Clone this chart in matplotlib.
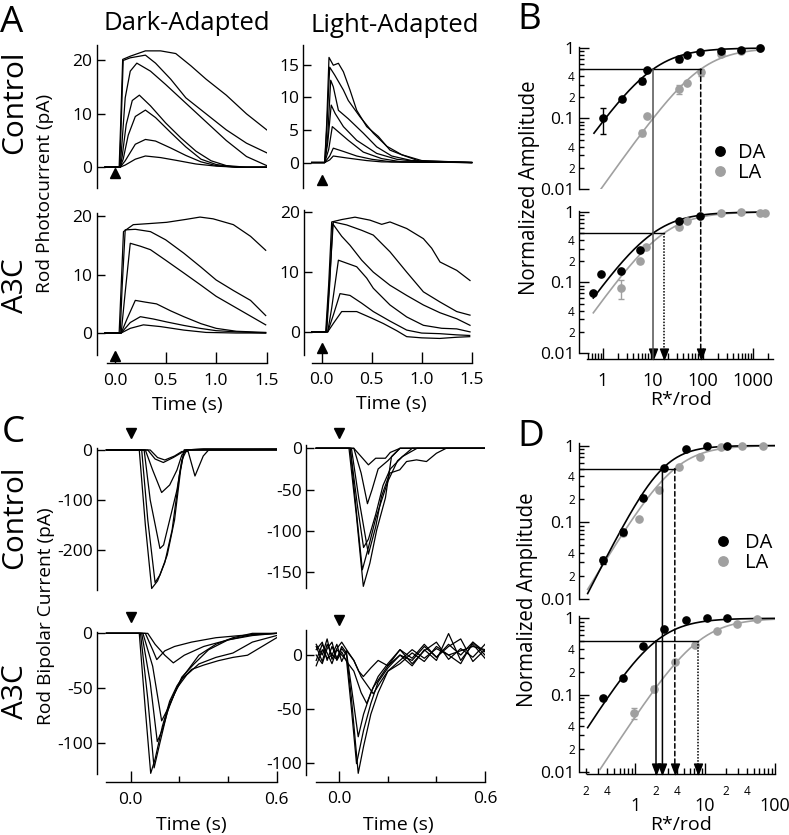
import numpy as np
import matplotlib
matplotlib.use('Agg')
import matplotlib.pyplot as plt
from matplotlib.patches import ConnectionPatch
from matplotlib.path import Path

W, H = 789, 835
plt.rcParams['font.family'] = ['Open Sans', 'DejaVu Sans']
plt.rcParams['axes.unicode_minus'] = False
plt.rcParams['axes.linewidth'] = 1.0

# ---------------- A: rod photocurrents (time s, current pA) ----------------
a_ctrl_dark_t = [
    [-0.1, 0.05, 0.1, 0.2, 0.3, 0.45, 0.6, 0.8, 1.0, 1.2, 1.5],
    [-0.1, 0.05, 0.1, 0.2, 0.3, 0.4, 0.55, 0.7, 0.85, 1.0, 1.2, 1.5],
    [-0.1, 0.05, 0.08, 0.13, 0.2, 0.3, 0.4, 0.55, 0.7, 0.85, 1.0, 1.2, 1.5],
    [-0.1, 0.05, 0.07, 0.11, 0.17, 0.24, 0.35, 0.5, 0.65, 0.8, 0.95, 1.1, 1.3, 1.5],
    [-0.1, 0.05, 0.07, 0.1, 0.15, 0.215, 0.35, 0.5, 0.7, 0.9, 1.1, 1.3, 1.5],
    [-0.1, 0.045, 0.06, 0.08, 0.15, 0.3, 0.4, 0.55, 0.7, 0.9, 1.1, 1.3, 1.5],
    [-0.1, 0.04, 0.055, 0.075, 0.15, 0.3, 0.45, 0.6, 0.75, 0.9, 1.1, 1.3, 1.5],
]
a_ctrl_dark_y = [
    [0, 0, 0.4, 1.5, 2.1, 1.8, 1.3, 0.6, 0.2, 0, 0],
    [0, 0, 1.2, 4.3, 5.2, 4.9, 3.6, 2.2, 1.0, 0.3, 0, 0],
    [0, 0, 1.5, 6, 9.5, 10.7, 9.3, 6.5, 3.8, 1.5, 0.5, 0, 0],
    [0, 0, 2, 8, 12.5, 13.5, 11.5, 8.3, 5.5, 3, 1.2, 0.3, 0, 0],
    [0, 0, 5, 13, 18, 19.5, 18, 15.5, 12, 8.5, 5, 2, 0.3],
    [0, 0, 8, 20, 20.5, 21, 19.5, 16.5, 13, 10, 7, 4.5, 2.7],
    [0, 0, 8, 20.2, 20.8, 21.8, 21.8, 21.3, 19, 16.5, 13.5, 10, 7],
]
a_ctrl_light_t = [
    [-0.1, 0.03, 0.08, 0.116, 0.25, 0.45, 0.6, 1.5],
    [-0.1, 0.03, 0.08, 0.116, 0.217, 0.35, 0.5, 0.7, 1.5],
    [-0.1, 0.03, 0.07, 0.106, 0.167, 0.266, 0.416, 0.6, 0.8, 1.5],
    [-0.1, 0.03, 0.06, 0.095, 0.135, 0.217, 0.35, 0.55, 0.75, 1.0, 1.5],
    [-0.1, 0.03, 0.06, 0.09, 0.116, 0.167, 0.266, 0.416, 0.55, 0.7, 0.9, 1.5],
    [-0.1, 0.03, 0.05, 0.08, 0.13, 0.217, 0.266, 0.383, 0.516, 0.65, 0.8, 1.0, 1.5],
    [-0.1, 0.03, 0.05, 0.073, 0.116, 0.167, 0.217, 0.283, 0.35, 0.45, 0.566, 0.683, 0.816, 1.0, 1.5],
]
a_ctrl_light_y = [
    [0, 0, 0.4, 1.0, 0.7, 0.3, 0.1, 0],
    [0, 0, 1, 2.2, 1.7, 1.0, 0.5, 0.1, 0],
    [0, 0, 2, 5.5, 4.7, 3.4, 1.6, 0.6, 0.1, 0],
    [0, 0, 3, 8.8, 7.5, 5.5, 3.4, 1.4, 0.5, 0.1, 0],
    [0, 0, 4, 12.6, 11.6, 8.0, 6.7, 4.5, 2.4, 1.0, 0.3, 0],
    [0, 0, 5, 14.6, 13.4, 11.1, 9.5, 7.0, 4.5, 2.5, 1.2, 0.3, 0],
    [0, 0, 6, 16.1, 14.9, 15.2, 13.9, 11.1, 8.0, 5.5, 4.0, 1.9, 1.1, 0.1, 0],
]
a_a3c_dark_t = [
    [-0.1, 0.04, 0.06, 0.083, 0.18, 0.35, 0.51, 0.7, 0.84, 0.97, 1.17, 1.34, 1.49],
    [-0.1, 0.05, 0.07, 0.1, 0.2, 0.35, 0.5, 0.68, 0.85, 1.0, 1.17, 1.34, 1.49],
    [-0.1, 0.06, 0.1, 0.15, 0.25, 0.35, 0.5, 0.68, 0.85, 1.0, 1.17, 1.34, 1.49],
    [-0.1, 0.06, 0.12, 0.2, 0.3, 0.41, 0.55, 0.68, 0.85, 1.0, 1.2, 1.49],
    [-0.1, 0.06, 0.15, 0.25, 0.38, 0.51, 0.68, 0.84, 1.0, 1.2, 1.49],
    [-0.1, 0.06, 0.15, 0.28, 0.45, 0.68, 0.9, 1.2, 1.49],
]
a_a3c_dark_y = [
    [0, 0, 8, 17.4, 18.6, 18.8, 19.0, 19.5, 19.9, 19.6, 18.6, 16.6, 14.2],
    [0, 0, 8, 17.7, 17.8, 17.4, 16, 13.7, 11.3, 9.1, 7.3, 5.6, 3.0],
    [0, 0, 7, 15.4, 14.9, 14.3, 12.5, 10.3, 8.2, 6.3, 4.6, 2.9, 1.4],
    [0, 0, 2.5, 5.6, 5.3, 5.0, 3.8, 2.8, 1.6, 0.8, 0.3, 0.1],
    [0, 0, 1.8, 2.8, 2.4, 1.9, 1.3, 0.8, 0.4, 0.2, 0],
    [0, 0, 0.8, 1.4, 1.1, 0.5, 0.1, 0, 0],
]
a_a3c_light_t = [
    [-0.1, 0.04, 0.07, 0.1, 0.2, 0.333, 0.483, 0.6, 0.683, 0.85, 1.017, 1.1, 1.183, 1.35, 1.483],
    [-0.1, 0.045, 0.08, 0.116, 0.25, 0.4, 0.516, 0.683, 0.85, 1.017, 1.183, 1.35, 1.483],
    [-0.1, 0.05, 0.08, 0.11, 0.2, 0.283, 0.4, 0.516, 0.683, 0.85, 1.017, 1.183, 1.35, 1.483],
    [-0.1, 0.06, 0.1, 0.167, 0.25, 0.35, 0.45, 0.516, 0.683, 0.85, 1.017, 1.2, 1.35, 1.483],
    [-0.1, 0.06, 0.12, 0.183, 0.283, 0.4, 0.516, 0.683, 0.85, 1.0, 1.18, 1.35, 1.48],
    [-0.1, 0.06, 0.12, 0.2, 0.35, 0.5, 0.616, 0.75, 0.85, 1.0, 1.18, 1.35, 1.48],
]
a_a3c_light_y = [
    [0, 0, 8, 18.4, 18.8, 19.2, 18.7, 18.0, 18.4, 17.3, 15.6, 14, 11.7, 10.3, 8.6],
    [0, 0, 9, 18.4, 17.9, 17, 16.2, 13.4, 10.0, 6.7, 5.0, 3.4, 2.8],
    [0, 0, 8, 18.1, 16, 14.5, 12, 10.0, 7.8, 6.1, 4.5, 3.2, 2.2, 1.1],
    [0, 0, 4, 12.0, 11.5, 10.9, 9, 7.3, 4.5, 2.5, 1.1, 0.6, 0.5, 0],
    [0, 0, 3, 6.4, 6.1, 4.8, 3.4, 1.8, 0.3, -0.2, -0.3, -0.5, -0.6],
    [0, 0, 1.5, 3.4, 3.4, 2.3, 1.4, 0.2, -0.8, -1.0, -1.1, -0.9, -0.8],
]

# ---------------- C: rod bipolar currents (time s, current pA) ----------------
c_ctrl_dark_t = [
    [-0.1, 0.035, 0.06, 0.086, 0.11, 0.14, 0.17, 0.2, 0.22, 0.3, 0.6],
    [-0.1, 0.045, 0.07, 0.1, 0.12, 0.15, 0.18, 0.205, 0.22, 0.3, 0.6],
    [-0.1, 0.055, 0.08, 0.12, 0.135, 0.16, 0.19, 0.21, 0.23, 0.6],
    [-0.1, 0.06, 0.09, 0.127, 0.16, 0.19, 0.21, 0.23, 0.6],
    [-0.1, 0.07, 0.1, 0.134, 0.175, 0.21, 0.23, 0.6],
    [-0.1, 0.08, 0.11, 0.14, 0.18, 0.21, 0.236, 0.264, 0.298, 0.32, 0.6],
]
c_ctrl_dark_y = [
    [0, 0, -150, -277, -262, -225, -160, -50, 0, 2, 2],
    [0, 0, -140, -265, -250, -210, -140, -40, 0, 2, 2],
    [0, 0, -100, -197, -190, -140, -80, -20, 0, 1],
    [0, 0, -40, -85, -70, -40, -10, 0, 0],
    [0, 0, -18, -25, -15, -5, 0, 1],
    [0, 0, -15, -20, -12, -3, -3, -52, -12, 0, 0],
]
c_ctrl_light_t = [
    [-0.095, 0.04, 0.07, 0.099, 0.126, 0.154, 0.19, 0.215, 0.25, 0.6],
    [-0.095, 0.045, 0.075, 0.095, 0.12, 0.15, 0.2, 0.24, 0.3, 0.6],
    [-0.095, 0.05, 0.08, 0.12, 0.15, 0.174, 0.208, 0.249, 0.277, 0.318, 0.359, 0.4, 0.44, 0.6],
    [-0.095, 0.045, 0.075, 0.1, 0.12, 0.15, 0.18, 0.21, 0.26, 0.32, 0.6],
    [-0.095, 0.06, 0.09, 0.116, 0.135, 0.16, 0.2, 0.25, 0.6],
    [-0.095, 0.06, 0.09, 0.12, 0.15, 0.19, 0.21, 0.25, 0.6],
]
c_ctrl_light_y = [
    [0, 0, -80, -167, -139, -99, -60, -10, 0, 0],
    [0, 0, -90, -147, -120, -85, -40, -15, 0, 0],
    [0, 0, -60, -128, -95, -58, -30, -26, -16, -14, -16, -6, 0, 0],
    [0, 0, -70, -120, -110, -80, -45, -25, -10, 0, 0],
    [0, 0, -30, -67, -50, -25, -15, 0, 0],
    [0, 0, -10, -20, -12, -12, -5, 0, 0],
]
c_a3c_dark_t = [
    [-0.1, 0.035, 0.06, 0.082, 0.1, 0.13, 0.16, 0.19, 0.22, 0.28, 0.35, 0.42, 0.5, 0.6],
    [-0.1, 0.04, 0.07, 0.096, 0.12, 0.15, 0.18, 0.21, 0.26, 0.32, 0.4, 0.5, 0.6],
    [-0.1, 0.045, 0.08, 0.109, 0.13, 0.16, 0.19, 0.23, 0.28, 0.35, 0.42, 0.5, 0.6],
    [-0.1, 0.05, 0.09, 0.127, 0.15, 0.18, 0.21, 0.25, 0.3, 0.36, 0.42, 0.48, 0.54, 0.6],
    [-0.1, 0.06, 0.09, 0.107, 0.14, 0.18, 0.25, 0.35, 0.45, 0.6],
    [-0.1, 0.07, 0.1, 0.14, 0.175, 0.22, 0.3, 0.4, 0.5, 0.6],
]
c_a3c_dark_y = [
    [0, 0, -70, -128, -115, -85, -62, -48, -38, -20, -10, -4, 0, 0],
    [0, 0, -60, -123, -100, -72, -55, -40, -28, -15, -6, -1, 0],
    [0, 0, -45, -99, -88, -65, -50, -38, -28, -22, -18, -8, -2],
    [0, 0, -30, -80, -70, -55, -42, -33, -29, -25, -22, -20, -12, -4],
    [0, 0, -15, -24, -16, -12, -8, -4, -2, 0],
    [0, 0, -10, -20, -27, -20, -12, -6, -2, 0],
]
c_a3c_light_t = [
    [-0.095, -0.07, -0.05, -0.03, -0.01, 0.01, 0.03, 0.05, 0.078, 0.1, 0.13, 0.16, 0.2, 0.25, 0.3, 0.35, 0.4, 0.45, 0.5, 0.55, 0.6],
    [-0.095, -0.07, -0.05, -0.03, -0.01, 0.01, 0.03, 0.05, 0.071, 0.1, 0.13, 0.16, 0.2, 0.25, 0.3, 0.35, 0.4, 0.45, 0.5, 0.55, 0.6],
    [-0.095, -0.07, -0.05, -0.03, -0.01, 0.01, 0.03, 0.05, 0.078, 0.1, 0.13, 0.16, 0.2, 0.25, 0.3, 0.35, 0.4, 0.45, 0.5, 0.55, 0.6],
    [-0.095, -0.07, -0.05, -0.03, -0.01, 0.01, 0.03, 0.06, 0.09, 0.113, 0.14, 0.17, 0.2, 0.25, 0.3, 0.35, 0.4, 0.45, 0.5, 0.55, 0.6],
    [-0.095, -0.07, -0.05, -0.03, -0.01, 0.01, 0.03, 0.06, 0.09, 0.115, 0.14, 0.17, 0.2, 0.25, 0.3, 0.35, 0.4, 0.45, 0.5, 0.55, 0.6],
    [-0.095, -0.07, -0.05, -0.03, -0.01, 0.01, 0.03, 0.06, 0.08, 0.099, 0.13, 0.16, 0.2, 0.25, 0.3, 0.35, 0.4, 0.45, 0.5, 0.55, 0.6],
]
c_a3c_light_y = [
    [5, 12, -5, 8, -3, 6, 0, -40, -110, -85, -55, -35, -15, -5, 5, -3, 6, 0, 4, 8, 5],
    [-5, 10, 2, -8, 5, 0, -5, -50, -101, -70, -45, -25, -12, 0, -5, 8, -2, 10, 0, 12, 3],
    [8, -6, 10, 0, -4, 8, 2, -30, -76, -55, -35, -20, -8, 5, -8, 4, 12, -4, 6, -2, 10],
    [0, -8, 6, 12, -5, 3, -6, -15, -35, -45, -30, -20, -10, 0, -10, 5, -5, 20, -5, 10, -3],
    [-10, 5, -3, 0, 10, -6, 4, -5, -20, -28, -36, -25, -15, -8, 2, -6, 8, 0, -8, 12, 0],
    [10, 0, 15, -4, 6, 12, 5, -5, -15, -20, -12, -5, -10, 5, -3, 10, -2, 8, 15, -6, 5],
]

# ---------------- B: photocurrent response vs R*/rod ----------------
b_ctrl_da_x = [0.98, 2.37, 5.95, 7.7, 33, 48.5, 87, 225, 575, 1380]
b_ctrl_da_y = [0.10, 0.19, 0.34, 0.48, 0.70, 0.80, 0.87, 0.91, 0.95, 1.0]
b_ctrl_da_err = [0.04, 0.015, 0.035, 0.03, 0.06, 0.03, 0.02, 0.01, 0.01, 0]
b_ctrl_la_x = [5.95, 7.7, 33, 48.5, 90, 225, 575, 1380]
b_ctrl_la_y = [0.063, 0.11, 0.26, 0.32, 0.45, 0.81, 0.90, 1.0]
b_ctrl_la_err = [0.006, 0, 0.04, 0, 0.05, 0.02, 0, 0]
b_a3c_da_x = [0.64, 0.91, 2.26, 5.5, 33, 87]
b_a3c_da_y = [0.070, 0.13, 0.146, 0.29, 0.74, 0.88]
b_a3c_la_x = [2.26, 5.5, 7.1, 33, 47, 225, 575, 1380, 1700]
b_a3c_la_y = [0.083, 0.20, 0.32, 0.62, 0.74, 0.95, 1.0, 0.98, 0.98]
b_a3c_la_err = [0.025, 0.01, 0, 0.04, 0, 0, 0, 0, 0]
# half-saturating R*/rod of the fits (Hill exponent 1)
b_half = {'ctrl_da': 10, 'ctrl_la': 90, 'a3c_da': 10, 'a3c_la': 16.6}

# ---------------- D: bipolar response vs R*/rod ----------------
d_ctrl_da_x = [0.346, 0.68, 1.31, 2.62, 5.3, 10.6, 20.4]
d_ctrl_da_y = [0.032, 0.075, 0.21, 0.51, 0.90, 1.0, 1.0]
d_ctrl_da_err = [0.003, 0.006, 0.015, 0.02, 0, 0, 0]
d_ctrl_la_x = [0.346, 0.68, 1.12, 2.2, 4.3, 8.5, 16.7, 33.4, 66.6]
d_ctrl_la_y = [0.032, 0.072, 0.11, 0.26, 0.53, 0.70, 0.96, 1.0, 1.0]
d_a3c_da_x = [0.346, 0.68, 1.31, 2.62, 5.3, 10.6, 20.4]
d_a3c_da_y = [0.092, 0.165, 0.435, 0.72, 0.95, 1.0, 1.0]
d_a3c_da_err = [0.006, 0.01, 0.02, 0.03, 0, 0, 0]
d_a3c_la_x = [0.95, 1.87, 3.7, 7.2, 14.6, 28.4, 55]
d_a3c_la_y = [0.058, 0.12, 0.27, 0.45, 0.68, 0.84, 0.98]
d_a3c_la_err = [0.01, 0.01, 0, 0, 0, 0, 0]
# (half-saturating R*/rod, Hill exponent)
d_fit = {'ctrl_da': (2.46, 1.8), 'ctrl_la': (3.7, 1.5), 'a3c_da': (1.97, 1.45), 'a3c_la': (8.0, 1.4)}

GRAY = '#a0a0a0'
TICK = 12.5

fig = plt.figure(figsize=(W / 100, H / 100), dpi=100)


def px_axes(left, top, right, bottom):
    ax = fig.add_axes([left / W, 1 - bottom / H, (right - left) / W, (bottom - top) / H])
    ax.patch.set_visible(False)
    ax.spines[['top', 'right']].set_visible(False)
    return ax


def ftext(x, y, s, size, ha='center', va='center', **kw):
    fig.text(x / W, 1 - y / H, s, fontsize=size, ha=ha, va=va, **kw)


def trace_panel(box, xlim, ylim, yticks, ts, ys, ybounds=None, xbounds=None,
                xticks=None, xlabels=None, xminor=None, stim=None):
    ax = px_axes(*box)
    for t, y in zip(ts, ys):
        ax.plot(t, y, color='black', lw=0.9)
    ax.set_xlim(xlim)
    ax.set_ylim(ylim)
    ax.set_yticks(yticks)
    ax.tick_params(axis='y', direction='in', length=6, width=1, pad=3, labelsize=TICK)
    if ybounds:
        ax.spines['left'].set_bounds(*ybounds)
    if xbounds is None:
        ax.spines['bottom'].set_visible(False)
        ax.set_xticks([])
    else:
        ax.spines['bottom'].set_bounds(*xbounds)
        ax.set_xticks(xticks, labels=xlabels)
        if xminor:
            ax.set_xticks(xminor, minor=True)
        ax.tick_params(axis='x', which='major', direction='in', length=8, width=1, pad=7, labelsize=TICK)
        ax.tick_params(axis='x', which='minor', direction='in', length=4, width=1)
    if stim:
        ax.plot([0], [stim[1]], marker=stim[0], color='black', ms=6.5, clip_on=False)
    return ax


# ---- panel A ----
trace_panel((96.7, 45, 266.7, 188), (-0.182, 1.5), (-3.9, 22.9), [0, 10, 20],
            a_ctrl_dark_t, a_ctrl_dark_y, stim=('^', -1.0))
trace_panel((303.3, 45, 472.7, 188), (-0.184, 1.51), (-3.9, 18.0), [0, 5, 10, 15],
            a_ctrl_light_t, a_ctrl_light_y, stim=('^', -2.7))
trace_panel((96.7, 213, 266.7, 363.3), (-0.182, 1.5), (-5.2, 20.6), [0, 10, 20],
            a_a3c_dark_t, a_a3c_dark_y, ybounds=(-3.8, 20.6), xbounds=(-0.083, 1.5),
            xticks=[0, 0.5, 1.0, 1.5], xlabels=['0.0', '0.5', '1.0', '1.5'], stim=('^', -4.0))
trace_panel((304, 210, 472.7, 362.7), (-0.177, 1.51), (-5.16, 20.4), [0, 10, 20],
            a_a3c_light_t, a_a3c_light_y, ybounds=(-3.9, 20.4), xbounds=(-0.1, 1.5),
            xticks=[0, 0.5, 1.0, 1.5], xlabels=['0.0', '0.5', '1.0', '1.5'], stim=('^', -2.7))

# ---- panel C ----
trace_panel((96.7, 448, 276.7, 590), (-0.14, 0.6), (-280, 4), [0, -100, -200],
            c_ctrl_dark_t, c_ctrl_dark_y, stim=('v', 34))
trace_panel((306, 445, 485, 588), (-0.137, 0.6), (-169, 4), [0, -50, -100, -150],
            c_ctrl_light_t, c_ctrl_light_y, stim=('v', 18.5))
trace_panel((96.7, 631.7, 276.7, 782.3), (-0.14, 0.6), (-136.2, 1.5), [0, -50, -100],
            c_a3c_dark_t, c_a3c_dark_y, ybounds=(-128.6, 1.5), xbounds=(-0.1, 0.6),
            xticks=[0, 0.6], xlabels=['0.0', '0.6'], xminor=[0.2, 0.4], stim=('v', 15.2))
trace_panel((306, 630, 485, 781.7), (-0.137, 0.6), (-117.8, 23.3), [0, -50, -100],
            c_a3c_light_t, c_a3c_light_y, ybounds=(-111.2, 23.3), xbounds=(-0.096, 0.6),
            xticks=[0, 0.6], xlabels=['0.0', '0.6'], xminor=[0.2, 0.4], stim=('v', 32.6))


# ---- dose-response panels ----
def hill(x, half, n=1.0):
    return x ** n / (x ** n + half ** n)


def log_y(ax, ylim):
    ax.set_yscale('log')
    ax.set_xscale('log')
    ax.set_yticks([0.01, 0.1, 1], labels=['0.01', '0.1', '1'])
    minor = [k * 10.0 ** e for e in (-2, -1) for k in range(2, 10)]
    mlab = ['2' if k == 2 else '4' if k == 4 else '' for e in (-2, -1) for k in range(2, 10)]
    ax.set_yticks(minor, labels=mlab, minor=True)
    ax.tick_params(axis='y', which='major', direction='in', length=7, width=1, labelsize=TICK, pad=3)
    ax.tick_params(axis='y', which='minor', direction='in', length=3.5, width=1, labelsize=8.5, pad=3)
    ax.set_ylim(ylim)


def points(ax, x, y, color, err=None):
    if err is not None:
        ax.errorbar(x, y, yerr=err, fmt='none', ecolor=color, elinewidth=1, capsize=2.5, capthick=1)
    line, = ax.plot(x, y, 'o', color=color, ms=5.2, mec=color, clip_on=False)
    return line


def fit(ax, lo, hi, half, n, color):
    xs = np.logspace(np.log10(lo), np.log10(hi), 200)
    ax.plot(xs, hill(xs, half, n), color=color, lw=1.2)


arrow_tip = Path([(0, 0), (-0.38, 1), (0.38, 1), (0, 0)],
                 [Path.MOVETO, Path.LINETO, Path.LINETO, Path.CLOSEPOLY])


def half_line(ax_from, ax_to, x, ls, color):
    ybot = ax_to.get_ylim()[0]
    if ax_from is ax_to:
        ax_to.plot([x, x], [0.5, ybot], ls=ls, color=color, lw=1.1)
    else:
        con = ConnectionPatch(xyA=(x, 0.5), coordsA=ax_from.transData,
                              xyB=(x, ybot), coordsB=ax_to.transData,
                              color=color, lw=1.1, linestyle=ls)
        fig.add_artist(con)
    ax_to.plot([x], [ybot], marker=arrow_tip, ms=15, color='black', clip_on=False, zorder=5)


# B
bt = px_axes(579, 46.7, 773, 189)
log_y(bt, (0.01, 1.043))
bt.set_xlim(0.331, 2512)
bt.spines['bottom'].set_visible(False)
bt.set_xticks([]); bt.set_xticks([], minor=True)
bb = px_axes(579, 211, 773, 359)
log_y(bb, (0.00822, 1.03))
bb.set_xlim(0.331, 2512)
bb.spines['left'].set_bounds(0.01, 1.03)
bb.spines['bottom'].set_bounds(0.479, 2540)
bb.set_xticks([1, 10, 100, 1000], labels=['1', '10', '100', '1000'])
bb.set_xticks([k * 10.0 ** e for e in range(-1, 4) for k in range(2, 10) if 0.48 < k * 10.0 ** e < 2500],
              minor=True)
bb.xaxis.set_minor_formatter(plt.NullFormatter())
bb.tick_params(axis='x', which='major', direction='in', length=8, width=1, labelsize=13, pad=9)
bb.tick_params(axis='x', which='minor', direction='in', length=4, width=1)

fit(bt, 0.87, 1400, b_half['ctrl_la'], 1, GRAY)
fit(bt, 0.66, 1400, b_half['ctrl_da'], 1, 'black')
h_la = points(bt, b_ctrl_la_x, b_ctrl_la_y, GRAY, b_ctrl_la_err)
h_da = points(bt, b_ctrl_da_x, b_ctrl_da_y, 'black', b_ctrl_da_err)
fit(bb, 0.64, 1500, b_half['a3c_la'], 1, GRAY)
fit(bb, 0.64, 1500, b_half['a3c_da'], 1, 'black')
points(bb, b_a3c_la_x, b_a3c_la_y, GRAY, b_a3c_la_err)
points(bb, b_a3c_da_x, b_a3c_da_y, 'black')
bt.plot([bt.get_xlim()[0], b_half['ctrl_la']], [0.5, 0.5], color='black', lw=1)
bb.plot([bb.get_xlim()[0], b_half['a3c_la']], [0.5, 0.5], color='black', lw=1)
half_line(bt, bb, b_half['ctrl_da'], '-', '#505050')
half_line(bt, bb, b_half['ctrl_la'], (0, (3, 2)), 'black')
half_line(bb, bb, b_half['a3c_la'], (0, (1, 1)), 'black')
fig.legend(handles=[h_da, h_la], labels=['DA', 'LA'], loc='center left',
           bbox_to_anchor=(713 / W, 1 - 163 / H), frameon=False, fontsize=14.5,
           handlelength=0.7, handletextpad=0.55, labelspacing=0.0, borderpad=0,
           borderaxespad=0, numpoints=1, markerscale=1.3)

# D
dt = px_axes(579, 443, 775, 599)
log_y(dt, (0.01, 1.08))
dt.set_xlim(0.158, 100)
dt.spines['bottom'].set_visible(False)
dt.set_xticks([]); dt.set_xticks([], minor=True)
db = px_axes(579, 616, 775, 774.3)
log_y(db, (0.00925, 1.07))
db.set_xlim(0.158, 100)
db.spines['left'].set_bounds(0.01, 1.07)
db.spines['bottom'].set_bounds(0.206, 100)
db.set_xticks([1, 10, 100], labels=['1', '10', '100'])
dminor = [k * 10.0 ** e for e in (-1, 0, 1) for k in range(2, 10)]
db.set_xticks(dminor, labels=['2' if k == 2 else '4' if k == 4 else '' for e in (-1, 0, 1) for k in range(2, 10)],
              minor=True)
db.tick_params(axis='x', which='major', direction='in', length=8, width=1, labelsize=13, pad=16)
db.tick_params(axis='x', which='minor', direction='in', length=4, width=1, labelsize=8.5, pad=8)

fit(dt, 0.21, 100, *d_fit['ctrl_la'], GRAY)
fit(dt, 0.21, 100, *d_fit['ctrl_da'], 'black')
h_la2 = points(dt, d_ctrl_la_x, d_ctrl_la_y, GRAY)
h_da2 = points(dt, d_ctrl_da_x, d_ctrl_da_y, 'black', d_ctrl_da_err)
fit(db, 0.316, 100, *d_fit['a3c_la'], GRAY)
fit(db, 0.21, 100, *d_fit['a3c_da'], 'black')
points(db, d_a3c_la_x, d_a3c_la_y, GRAY, d_a3c_la_err)
points(db, d_a3c_da_x, d_a3c_da_y, 'black', d_a3c_da_err)
dt.plot([dt.get_xlim()[0], d_fit['ctrl_la'][0]], [0.5, 0.5], color='black', lw=1)
db.plot([db.get_xlim()[0], d_fit['a3c_la'][0]], [0.5, 0.5], color='black', lw=1)
half_line(dt, db, d_fit['ctrl_da'][0], '-', 'black')
half_line(dt, db, d_fit['ctrl_la'][0], (0, (3, 2)), 'black')
half_line(db, db, d_fit['a3c_da'][0], '-', 'black')
half_line(db, db, d_fit['a3c_la'][0], (0, (1, 1)), 'black')
fig.legend(handles=[h_da2, h_la2], labels=['DA', 'LA'], loc='center left',
           bbox_to_anchor=(715.5 / W, 1 - 553 / H), frameon=False, fontsize=14.5,
           handlelength=0.7, handletextpad=0.75, labelspacing=0.0, borderpad=0,
           borderaxespad=0, numpoints=1, markerscale=1.3)

# ---- text ----
ftext(0, 23, 'A', 26.5, ha='left')
ftext(517, 20, 'B', 26.5, ha='left')
ftext(2, 433, 'C', 26.5, ha='left')
ftext(517, 437, 'D', 26.5, ha='left')
ftext(187, 24, 'Dark-Adapted', 18.5)
ftext(395, 25, 'Light-Adapted', 18.5)
ftext(15, 102, 'Control', 21.5, rotation=90)
ftext(16, 286, 'A3C', 21.5, rotation=90)
ftext(15, 517, 'Control', 21.5, rotation=90)
ftext(16, 692, 'A3C', 21.5, rotation=90)
ftext(45, 193, 'Rod Photocurrent (pA)', 13.8, rotation=90)
ftext(46, 616, 'Rod Bipolar Current (pA)', 13.8, rotation=90)
ftext(187, 405, 'Time (s)', 14)
ftext(391, 404, 'Time (s)', 14)
ftext(191, 825, 'Time (s)', 14)
ftext(398, 825, 'Time (s)', 14)
ftext(530, 188, 'Normalized Amplitude', 14.8, rotation=90)
ftext(527, 600, 'Normalized Amplitude', 14.8, rotation=90)
ftext(681, 400, 'R*/rod', 14)
ftext(681, 825, 'R*/rod', 14)

fig.savefig('out.png', dpi=100)
